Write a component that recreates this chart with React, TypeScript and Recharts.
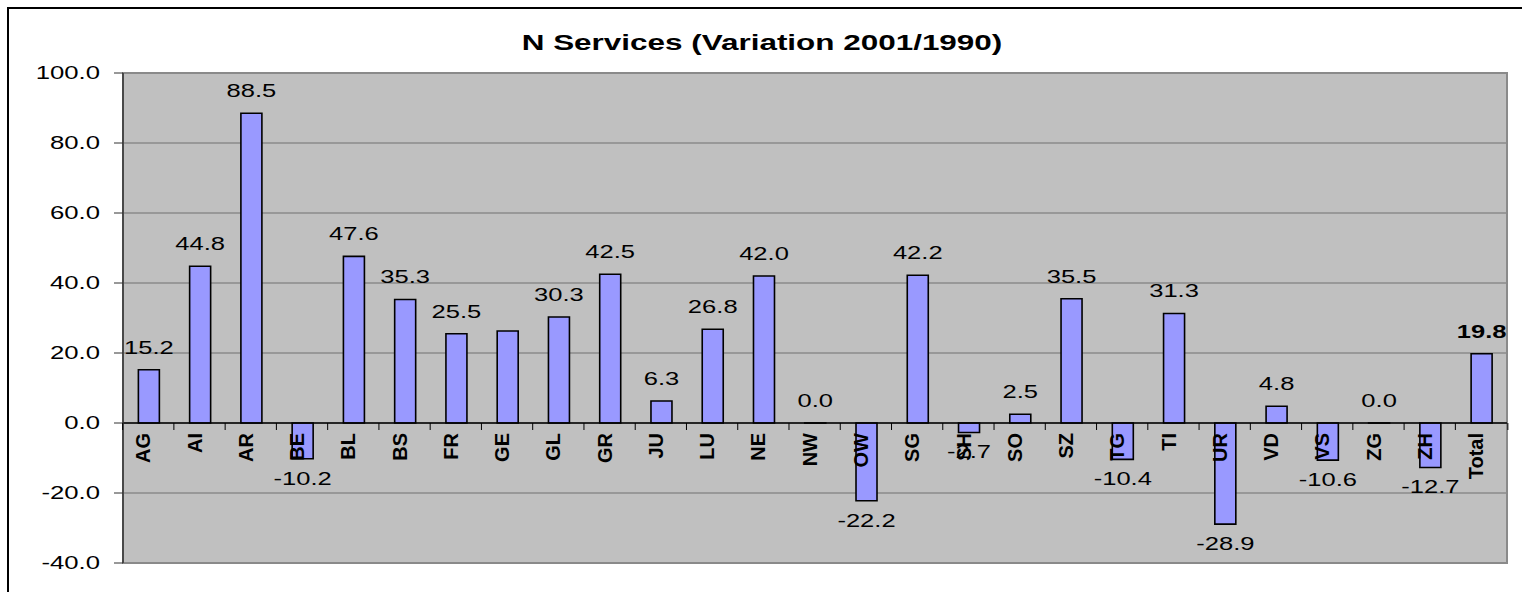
import React from 'react';
import { BarChart, Bar, XAxis, YAxis, CartesianGrid, ReferenceLine, ReferenceArea, LabelList } from 'recharts';

const categories = ['AG', 'AI', 'AR', 'BE', 'BL', 'BS', 'FR', 'GE', 'GL', 'GR', 'JU', 'LU', 'NE', 'NW', 'OW', 'SG', 'SH', 'SO', 'SZ', 'TG', 'TI', 'UR', 'VD', 'VS', 'ZG', 'ZH', 'Total'];
const values = [15.2, 44.8, 88.5, -10.2, 47.6, 35.3, 25.5, 26.3, 30.3, 42.5, 6.3, 26.8, 42.0, 0.0, -22.2, 42.2, -2.7, 2.5, 35.5, -10.4, 31.3, -28.9, 4.8, -10.6, 0.0, -12.7, 19.8];
const yTicks = [-40, -20, 0, 20, 40, 60, 80, 100];
const unlabeled = ['GE'];
const boldLabels = ['Total'];
const title = 'N Services (Variation 2001/1990)';

const data = categories.map((c, i) => ({ cat: c, value: values[i] }));

const FONT = "'Liberation Sans', Arial, Helvetica, sans-serif";
const W = 1514;
const H = 584;

const YTick = (props: any) => {
  const { x, y, payload } = props;
  return (
    <text
      transform={`translate(${x},${y}) scale(1.43,1)`}
      textAnchor="end"
      dy={6}
      fontSize={18}
      fontFamily={FONT}
      fill="#000"
    >
      {Number(payload.value).toFixed(1)}
    </text>
  );
};

const BarDecor = (props: any) => {
  const vb = props.viewBox && props.viewBox.width !== undefined ? props.viewBox : props;
  const x = Number(vb.x);
  const y = Number(vb.y);
  const width = Number(vb.width);
  const height = Number(vb.height);
  const cat = String(props.value);
  const index = categories.indexOf(cat);
  if (index < 0) return null;
  const v = values[index];
  const top = Math.min(y, y + height);
  const bottom = Math.max(y, y + height);
  const zero = v < 0 ? top : bottom;
  const end = v > 0 ? top : bottom;
  const cx = x + width / 2;
  const band = width / 0.4;
  const left = cx - band / 2;
  const labelY = v >= 0 ? end - 16 : end + 26;
  return (
    <g>
      <line x1={left} x2={left} y1={zero} y2={zero + 7} stroke="#000" strokeWidth={1} />
      {index === categories.length - 1 && (
        <line x1={left + band} x2={left + band} y1={zero} y2={zero + 7} stroke="#000" strokeWidth={1} />
      )}
      <text
        transform={`translate(${cx + 1.5},${zero + 10}) rotate(-90)`}
        textAnchor="end"
        fontWeight="bold"
        fontSize={20}
        fontFamily={FONT}
        fill="#000"
      >
        {cat}
      </text>
      {!unlabeled.includes(cat) && (
        <text
          transform={`translate(${cx},${labelY}) scale(1.42,1)`}
          textAnchor="middle"
          fontSize={18}
          fontWeight={boldLabels.includes(cat) ? 'bold' : 'normal'}
          fontFamily={FONT}
          fill="#000"
        >
          {v.toFixed(1)}
        </text>
      )}
    </g>
  );
};

export default function App() {
  return (
    <div style={{ height: 0 }}>
      <div
        style={{
          position: 'fixed',
          left: 7,
          top: 7,
          width: 1540,
          height: 610,
          border: '2px solid #000',
          boxSizing: 'border-box',
          background: '#fff',
        }}
      />
      <div style={{ position: 'fixed', left: 8, top: 8, width: W, height: H }}>
        <BarChart
          width={W}
          height={H}
          data={data}
          margin={{ top: 65, right: 15, bottom: 29, left: 0 }}
          barCategoryGap="30%"
        >
          <CartesianGrid vertical={false} fill="#C0C0C0" fillOpacity={1} stroke="#707070" strokeWidth={1.2} />
          <ReferenceArea y1={-40} y2={100} fill="none" stroke="#8a8a8a" strokeWidth={2} />
          <XAxis dataKey="cat" hide />
          <YAxis
            domain={[-40, 100]}
            ticks={yTicks}
            interval={0}
            width={115}
            tickSize={9}
            tickMargin={14}
            axisLine={{ stroke: '#333', strokeWidth: 1.5 }}
            tickLine={{ stroke: '#333', strokeWidth: 1 }}
            tick={<YTick />}
          />
          <ReferenceLine y={0} stroke="#000" strokeWidth={1.5} />
          <Bar
            dataKey="value"
            fill="#9999FF"
            stroke="#000"
            strokeWidth={1.6}
            minPointSize={(val: any) => (Number(val) === 0 ? 0.01 : 0)}
            isAnimationActive={false}
          >
            <LabelList dataKey="cat" content={<BarDecor />} />
          </Bar>
        </BarChart>
        <svg
          width={W}
          height={H}
          style={{ position: 'absolute', left: 0, top: 0, pointerEvents: 'none' }}
        >
          <text
            transform={`translate(${754},${42}) scale(1.43,1)`}
            textAnchor="middle"
            fontSize={22}
            fontWeight="bold"
            fontFamily={FONT}
            fill="#000"
          >
            {title}
          </text>
        </svg>
      </div>
    </div>
  );
}
